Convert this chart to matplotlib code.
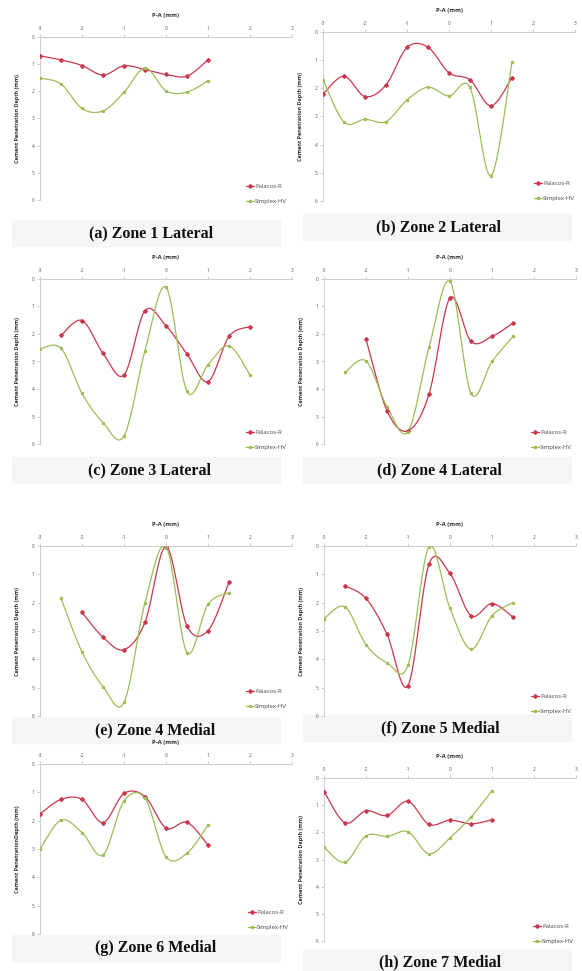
import numpy as np
import matplotlib
matplotlib.use("Agg")
import matplotlib.pyplot as plt

plt.rcParams['axes.unicode_minus'] = False
plt.rcParams['font.family'] = ['Open Sans', 'DejaVu Sans']

# data: P-A position (mm) vs penetration depth (mm)
titles = ["(a) Zone 1 Lateral", "(b) Zone 2 Lateral", "(c) Zone 3 Lateral", "(d) Zone 4 Lateral",
          "(e) Zone 4 Medial", "(f) Zone 5 Medial", "(g) Zone 6 Medial", "(h) Zone 7 Medial"]

pal_x = [
    [-3, -2.5, -2, -1.5, -1, -0.5, 0, 0.5, 1],
    [-3, -2.5, -2, -1.5, -1, -0.5, 0, 0.5, 1, 1.5],
    [-2.5, -2, -1.5, -1, -0.5, 0, 0.5, 1, 1.5, 2],
    [-2, -1.5, -1, -0.5, 0, 0.5, 1, 1.5],
    [-2, -1.5, -1, -0.5, 0, 0.5, 1, 1.5],
    [-2.5, -2, -1.5, -1, -0.5, 0, 0.5, 1, 1.5],
    [-3, -2.5, -2, -1.5, -1, -0.5, 0, 0.5, 1],
    [-3, -2.5, -2, -1.5, -1, -0.5, 0, 0.5, 1],
]
pal_y = [
    [0.69, 0.84, 1.05, 1.40, 1.06, 1.20, 1.38, 1.44, 0.84],
    [2.21, 1.57, 2.29, 1.88, 0.55, 0.54, 1.45, 1.70, 2.62, 1.62],
    [2.05, 1.51, 2.70, 3.49, 1.15, 1.70, 2.73, 3.73, 2.09, 1.73],
    [2.19, 4.79, 5.52, 4.19, 0.69, 2.27, 2.09, 1.60],
    [2.34, 3.22, 3.66, 2.69, 0.02, 2.82, 2.99, 1.28],
    [1.40, 1.85, 3.11, 4.93, 0.64, 0.97, 2.46, 2.03, 2.51],
    [1.76, 1.25, 1.25, 2.07, 1.04, 1.15, 2.26, 2.06, 2.86],
    [0.50, 1.65, 1.21, 1.38, 0.86, 1.71, 1.55, 1.69, 1.54],
]
sim_x = [
    [-3, -2.5, -2, -1.5, -1, -0.5, 0, 0.5, 1],
    [-3, -2.5, -2, -1.5, -1, -0.5, 0, 0.5, 1, 1.5],
    [-3, -2.5, -2, -1.5, -1, -0.5, 0, 0.5, 1, 1.5, 2],
    [-2.5, -2, -1.5, -1, -0.5, 0, 0.5, 1, 1.5],
    [-2.5, -2, -1.5, -1, -0.5, 0, 0.5, 1, 1.5],
    [-3, -2.5, -2, -1.5, -1, -0.5, 0, 0.5, 1, 1.5],
    [-3, -2.5, -2, -1.5, -1, -0.5, 0, 0.5, 1],
    [-3, -2.5, -2, -1.5, -1, -0.5, 0, 0.5, 1],
]
sim_y = [
    [1.51, 1.73, 2.63, 2.72, 2.04, 1.14, 1.98, 2.03, 1.61],
    [1.69, 3.20, 3.10, 3.18, 2.41, 1.96, 2.27, 1.97, 5.10, 1.07],
    [2.54, 2.52, 4.16, 5.22, 5.71, 2.61, 0.30, 4.09, 3.12, 2.43, 3.49],
    [3.40, 2.98, 4.64, 5.55, 2.49, 0.09, 4.16, 3.00, 2.09],
    [1.85, 3.74, 4.96, 5.52, 2.00, 0.02, 3.76, 2.06, 1.65],
    [2.56, 2.15, 3.48, 4.12, 4.21, 0.02, 2.20, 3.64, 2.46, 2.00],
    [3.00, 1.98, 2.42, 3.21, 1.31, 1.21, 3.27, 3.15, 2.15],
    [2.55, 3.10, 2.13, 2.15, 1.98, 2.79, 2.20, 1.44, 0.47],
]
ylabels = ["Cement Penetration Depth (mm)"] * 6 + ["Cement PenetrationDepth (mm)",
                                                  "Cement Penetration Depth (mm)"]

# layout in pixels: axes left, top, bottom; title x, y; legend x, y
layout = [
    (40, 37, 200, 151, 233, 243, 181),
    (323, 32, 201, 439, 227, 531, 178),
    (40, 279, 444, 150, 470, 243, 427),
    (324, 279, 444, 439, 470, 528, 427),
    (40, 546, 716, 155, 730, 243, 686),
    (324, 546, 716, 440, 728, 528, 691),
    (40, 764, 934, 156, 948, 245, 907),
    (324, 778, 941, 440, 962, 530, 921),
]

W, H = 582, 971
RED = "#c9374f"
GREEN = "#9cbd55"


def smooth(xs, ys, n=24):
    # Excel-like smoothed line (uniform Catmull-Rom through the points)
    p = np.column_stack([xs, ys]).astype(float)
    p = np.vstack([p[0], p, p[-1]])
    t = np.linspace(0, 1, n)[:, None]
    out = []
    for i in range(1, len(p) - 2):
        p0, p1, p2, p3 = p[i - 1], p[i], p[i + 1], p[i + 2]
        seg = 0.5 * ((2 * p1) + (-p0 + p2) * t + (2 * p0 - 5 * p1 + 4 * p2 - p3) * t ** 2
                     + (-p0 + 3 * p1 - 3 * p2 + p3) * t ** 3)
        out.append(seg)
    out = np.vstack(out)
    return out[:, 0], out[:, 1]


fig = plt.figure(figsize=(W / 100, H / 100), dpi=100)

for k in range(8):
    left, top, bottom, tx, ty, lx, ly = layout[k]
    unit = 42.0

    # faint band behind the caption
    col = k % 2
    band = plt.Rectangle(((col * 291 + 12) / W, 1 - (ty + 13) / H), 268 / W, 26 / H,
                         transform=fig.transFigure, color="#f6f6f6", zorder=-5)
    fig.add_artist(band)

    ax = fig.add_axes([left / W, 1 - bottom / H, 6 * unit / W, (bottom - top) / H], zorder=1)

    sx, sy = smooth(pal_x[k], pal_y[k])
    ax.plot(sx, sy, color=RED, lw=0.9, zorder=3)
    ax.plot(pal_x[k], pal_y[k], 'D', color=RED, ms=1.9, zorder=4)
    sx, sy = smooth(sim_x[k], sim_y[k])
    ax.plot(sx, sy, color=GREEN, lw=0.9, zorder=3)
    ax.plot(sim_x[k], sim_y[k], 's', color=GREEN, ms=1.3, zorder=4)

    ax.set_xlim(-3, 3)
    ax.set_ylim(6, 0)
    ax.set_xticks(range(-3, 4))
    ax.set_yticks(range(0, 7))
    ax.xaxis.tick_top()
    ax.xaxis.set_label_position('top')
    ax.set_xlabel("P-A (mm)", fontsize=4.3, fontweight='bold', color="#333333")
    ax.xaxis.set_label_coords(0.5, 1 + 20 / (bottom - top))
    ax.set_ylabel(ylabels[k], fontsize=4.0, fontweight='bold', color="#333333")
    ax.yaxis.set_label_coords(-20 / 252, 0.5)
    ax.tick_params(labelsize=3.5, length=2, width=0.5, colors="#bbbbbb", labelcolor="#555555", pad=2)
    for s in ['right', 'bottom']:
        ax.spines[s].set_visible(False)
    for s in ['left', 'top']:
        ax.spines[s].set_color("#cccccc")
        ax.spines[s].set_linewidth(0.7)
    ax.patch.set_alpha(0)

    h1, = ax.plot([], [], '-D', color=RED, ms=1.9, lw=0.9)
    h2, = ax.plot([], [], '-s', color=GREEN, ms=1.3, lw=0.9)
    ax.legend([h1, h2], ["Palacos-R", "Simplex-HV"], loc='upper left',
              bbox_to_anchor=(lx / W, 1 - ly / H), bbox_transform=fig.transFigure,
              frameon=False, fontsize=4.3, handlelength=1.3, handletextpad=0.2,
              labelspacing=1.6, borderpad=0, labelcolor="#444444")

    fig.text(tx / W, 1 - ty / H, titles[k], ha='center', va='center',
             family='Liberation Serif', fontweight='bold', fontsize=11.5, color="#111111")

fig.savefig("out.png", dpi=100)
